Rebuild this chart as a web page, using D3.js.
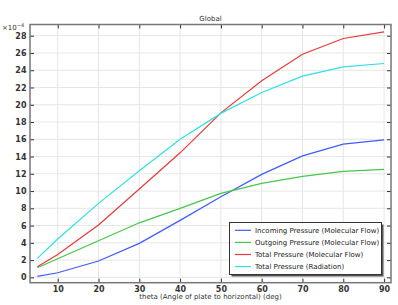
<!DOCTYPE html>
<html><head><meta charset="utf-8">
<script src="https://cdn.jsdelivr.net/npm/d3@7"></script>
<style>body{margin:0;background:#fff}svg{display:block}text{font-family:"DejaVu Sans",sans-serif}</style>
</head><body><svg id="c" width="398" height="305"></svg>
<script>
const theta = [5, 10, 20, 30, 40, 50, 60, 70, 80, 90];
const incoming = [0.12, 0.53, 1.89, 3.94, 6.6, 9.33, 11.93, 14.08, 15.44, 15.94];
const outgoing = [1.12, 2.15, 4.24, 6.32, 7.99, 9.73, 10.89, 11.7, 12.28, 12.51];
const totalMolecular = [1.23, 2.66, 6.06, 10.23, 14.43, 19.06, 22.77, 25.86, 27.68, 28.44];
const totalRadiation = [2.2, 4.45, 8.57, 12.35, 16.0, 19.0, 21.42, 23.31, 24.39, 24.78];
const seriesNames = ["Incoming Pressure (Molecular Flow)", "Outgoing Pressure (Molecular Flow)", "Total Pressure (Molecular Flow)", "Total Pressure (Radiation)"];
const seriesColors = ["#3f5cff", "#45c84a", "#e8393a", "#2fe0e0"];
const xTicks = [10, 20, 30, 40, 50, 60, 70, 80, 90];
const yTicks = [0, 2, 4, 6, 8, 10, 12, 14, 16, 18, 20, 22, 24, 26, 28];
const titleText = "Global";
const xLabel = "theta (Angle of plate to horizontal) (deg)";

const series = [incoming, outgoing, totalMolecular, totalRadiation];
const svg = d3.select("#c");
const L = 30, R = 391, T = 24.5, B = 282.7;
const x = d3.scaleLinear().domain([3.2, 91.7]).range([L, R]);
const y = d3.scaleLinear().domain([-0.62, 29.3]).range([B, T]);

// grid
svg.append("g").selectAll("line").data(xTicks).join("line")
  .attr("x1", d => x(d)).attr("x2", d => x(d)).attr("y1", T).attr("y2", B)
  .attr("stroke", "#e6e6e6").attr("stroke-width", 1);
svg.append("g").selectAll("line").data(yTicks).join("line")
  .attr("y1", d => y(d)).attr("y2", d => y(d)).attr("x1", L).attr("x2", R)
  .attr("stroke", "#e6e6e6").attr("stroke-width", 1);

// axes with inward ticks
const tickStyle = g => { g.select(".domain").remove(); g.selectAll(".tick line").attr("stroke", "#333"); };
svg.append("g").attr("transform", `translate(0,${B})`)
  .call(d3.axisBottom(x).tickValues(xTicks).tickSize(-4).tickPadding(3.5).tickFormat(d3.format("d")))
  .call(tickStyle)
  .call(g => g.selectAll("text").attr("font-size", 8).attr("fill", "#333").attr("font-weight", "bold"));
svg.append("g").attr("transform", `translate(0,${T})`)
  .call(d3.axisTop(x).tickValues(xTicks).tickSize(-4).tickFormat(""))
  .call(tickStyle);
svg.append("g").attr("transform", `translate(${L},0)`)
  .call(d3.axisLeft(y).tickValues(yTicks).tickSize(-4).tickPadding(3.5).tickFormat(d3.format("d")))
  .call(tickStyle)
  .call(g => g.selectAll("text").attr("font-size", 8).attr("fill", "#333").attr("font-weight", "bold"));
svg.append("g").attr("transform", `translate(${R},0)`)
  .call(d3.axisRight(y).tickValues(yTicks).tickSize(-4).tickFormat(""))
  .call(tickStyle);

// frame
svg.append("rect").attr("x", L).attr("y", T).attr("width", R - L).attr("height", B - T)
  .attr("fill", "none").attr("stroke", "#777").attr("stroke-width", 1.5);

// lines
const line = d3.line().x((d, i) => x(theta[i])).y(d => y(d));
svg.append("g").selectAll("path").data(series).join("path")
  .attr("d", line).attr("fill", "none")
  .attr("stroke", (d, i) => seriesColors[i]).attr("stroke-width", 1.2);

// title and labels
svg.append("text").attr("x", (L + R) / 2).attr("y", 21).attr("text-anchor", "middle")
  .attr("font-size", 7).attr("fill", "#333").text(titleText);
svg.append("text").attr("x", (L + R) / 2).attr("y", 299).attr("text-anchor", "middle")
  .attr("font-size", 7).attr("fill", "#333").text(xLabel);
const ex = svg.append("text").attr("x", 2).attr("y", 30).attr("font-size", 7).attr("fill", "#333");
ex.append("tspan").text("\u00d710");
ex.append("tspan").attr("dy", -3).attr("font-size", 5).text("\u22124");

// legend
const lg = svg.append("g");
const lx = 229.5, ly = 222.5, lw = 152, lh = 52;
lg.append("rect").attr("x", lx + 2).attr("y", ly + 2).attr("width", lw).attr("height", lh).attr("fill", "#555");
lg.append("rect").attr("x", lx).attr("y", ly).attr("width", lw).attr("height", lh).attr("fill", "#fff").attr("stroke", "#333").attr("stroke-width", 1);
const items = lg.selectAll("g.it").data(seriesNames).join("g").attr("class", "it")
  .attr("transform", (d, i) => `translate(0,${230.3 + i * 12.1})`);
items.append("line").attr("x1", 235).attr("x2", 251).attr("y1", 0).attr("y2", 0)
  .attr("stroke", (d, i) => seriesColors[i]).attr("stroke-width", 1.2);
items.append("text").attr("x", 255).attr("y", 2.6).attr("font-size", 7).attr("fill", "#222").text(d => d);
</script></body></html>
